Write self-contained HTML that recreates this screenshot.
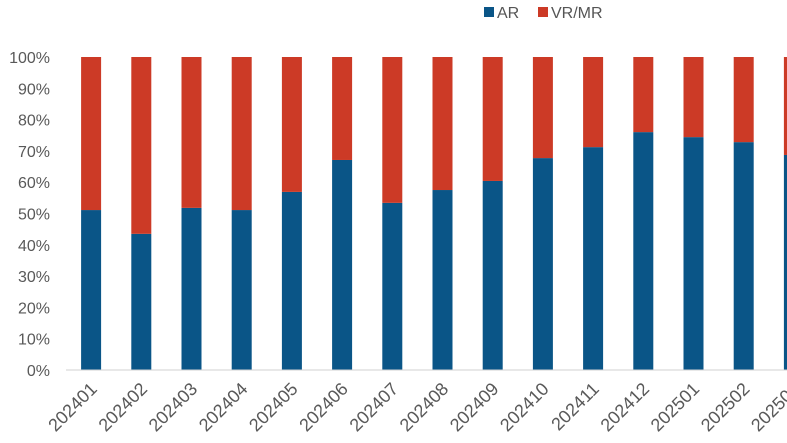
<!DOCTYPE html>
<html><head><meta charset="utf-8"><style>
body{margin:0;background:#fff;}
svg{display:block;font-family:"Liberation Sans","Noto Sans CJK SC",sans-serif;}
</style></head><body>
<svg id="chart" width="787" height="443">
<g>
<rect x="484" y="7" width="10" height="10" fill="#0a5587"/>
<text x="497" y="18" font-size="16" fill="#555">AR</text>
<rect x="538" y="7" width="10" height="10" fill="#cc3a26"/>
<text x="551" y="18" font-size="16" fill="#555">VR/MR</text>
</g>
<g id="plot"></g>
</svg>
<script>
const categories=["202401","202402","202403","202404","202405","202406","202407","202408","202409","202410","202411","202412","202501","202502","202503"];
const arShare=[51.1,43.5,51.8,51.1,56.9,67.1,53.4,57.5,60.4,67.7,71.2,76.0,74.4,72.8,68.7];
const vrShare=arShare.map(v=>100-v);
const yTicks=[0,10,20,30,40,50,60,70,80,90,100];
const NS="http://www.w3.org/2000/svg";
const g=document.getElementById('plot');
const y0=370,y1=57,left=66,step=50.2,bw=20;
const yS=v=>y0-(v/100)*(y0-y1);
const xC=i=>left+step*(i+0.5);
function mk(t,a){const e=document.createElementNS(NS,t);for(const k in a)e.setAttribute(k,a[k]);g.appendChild(e);return e;}
yTicks.forEach(t=>{
 const e=mk('text',{x:50,y:yS(t)+6,'text-anchor':'end','font-size':16,fill:'#595959'});
 e.textContent=t+'%';
 
 
});
categories.forEach((c,i)=>{
 const a=mk('rect',{x:xC(i)-bw/2,y:yS(arShare[i]),width:bw,height:y0-yS(arShare[i]),fill:'#0a5587'});
 
 
 const v=mk('rect',{x:xC(i)-bw/2,y:yS(arShare[i]+vrShare[i]),width:bw,height:yS(arShare[i])-yS(arShare[i]+vrShare[i]),fill:'#cc3a26'});
 
 
 const tx=xC(i)+7,ty=390;
 const l=mk('text',{x:tx,y:ty,'text-anchor':'end','font-size':18,fill:'#595959',transform:`rotate(-45 ${tx} ${ty})`});
 l.textContent=c;
 
 
});
const ax=mk('line',{x1:left,x2:787,y1:y0,y2:y0,stroke:'#d0d0d0','stroke-width':1});


</script>
</body></html>
